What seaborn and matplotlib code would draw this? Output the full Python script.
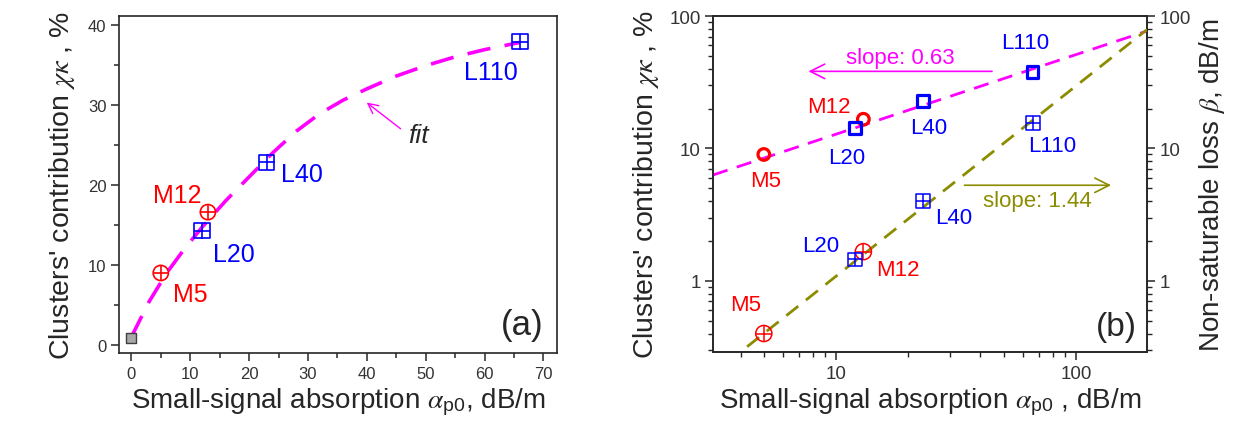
import matplotlib
matplotlib.use("Agg")
import matplotlib.pyplot as plt
import seaborn as sns
import pandas as pd
from matplotlib.ticker import MultipleLocator, FormatStrFormatter, NullFormatter

# ---- data ----
sample = ["M5", "L20", "M12", "L40", "L110"]
alpha_p0 = [5, 12, 13, 23, 66]              # small-signal absorption, dB/m
chi_kappa = [9.0, 14.3, 16.6, 22.8, 37.9]   # clusters' contribution, %
beta_loss = [0.40, 1.45, 1.66, 4.0, 15.6]   # non-saturable loss, dB/m

origin_alpha = [0]
origin_chi = [0.85]

# fit curve of panel (a)
fit_alpha = [0, 3, 6, 9, 12, 16, 20, 24, 28, 32, 36, 40, 45, 50, 55, 60, 66]
fit_chi = [1.0, 5.4, 9.0, 12.0, 14.7, 18.0, 21.0, 24.0, 26.7, 28.9, 30.6, 32.0,
           33.6, 34.9, 36.0, 36.9, 37.8]

# power-law fits of panel (b): end points of the straight lines
chi_fit_alpha = [3.07, 198]
chi_fit = [6.3, 77]
beta_fit_alpha = [4.26, 198]
beta_fit = [0.318, 79]

df = pd.DataFrame({"sample": sample, "alpha": alpha_p0, "chi": chi_kappa, "beta": beta_loss})
df["kind"] = df["sample"].str[0]
fit_a = pd.DataFrame({"alpha": fit_alpha, "chi": fit_chi})
fit_b1 = pd.DataFrame({"alpha": chi_fit_alpha, "val": chi_fit})
fit_b2 = pd.DataFrame({"alpha": beta_fit_alpha, "val": beta_fit})

sns.set_style("ticks")
plt.rcParams["font.family"] = ["Liberation Sans", "DejaVu Sans"]
plt.rcParams["mathtext.fontset"] = "stix"

RED = "#FF0000"
BLUE = "#0000FF"
MAG = "#FF00FF"
OLIVE = "#8C8C00"
colors = {"M": RED, "L": BLUE}

fig = plt.figure(figsize=(12.37, 4.35), dpi=100)
ax1 = fig.add_axes([0.0962, 0.1862, 0.3541, 0.7747])
ax2 = fig.add_axes([0.5764, 0.1885, 0.3509, 0.7724])


def cross_marker(ax, data, y, kind, s, shape, lw):
    sub = data[data["kind"] == kind]
    c = colors[kind]
    sns.scatterplot(data=sub, x="alpha", y=y, marker=shape, s=s, facecolor="none",
                    edgecolor=c, linewidth=lw, ax=ax, zorder=5)
    sns.scatterplot(data=sub, x="alpha", y=y, marker="+", s=s, color=c,
                    linewidth=lw, ax=ax, zorder=5)


# ---------------- panel (a) ----------------
sns.lineplot(data=fit_a, x="alpha", y="chi", color=MAG, lw=2.6,
             linestyle=(0, (6.5, 4)), ax=ax1, zorder=3)
sns.scatterplot(x=origin_alpha, y=origin_chi, marker="s", s=45, color="#A8A8A8",
                edgecolor="#404040", linewidth=1.0, ax=ax1, zorder=5)
cross_marker(ax1, df, "chi", "M", 120, "o", 1.2)
cross_marker(ax1, df, "chi", "L", 120, "s", 1.2)

lab_a = {"M5": (21, -15), "L20": (23, -17), "M12": (-22, 12), "L40": (25, -8), "L110": (-21, -22)}
for _, r in df.iterrows():
    ax1.annotate(r["sample"], (r["alpha"], r["chi"]), xytext=lab_a[r["sample"]],
                 textcoords="offset points", ha="center", va="center",
                 color=colors[r["kind"]], fontsize=18)

ax1.annotate("", xy=(39.6, 30.5), xytext=(46.1, 26.8),
             arrowprops=dict(arrowstyle="->", color=MAG, lw=1.0, mutation_scale=18))
ax1.text(48.7, 26.2, "fit", fontsize=19, style="italic", ha="center", va="center")
ax1.text(66.4, 2.6, "(a)", fontsize=25, ha="center", va="center")

ax1.set_xlim(-2.1, 72.3)
ax1.set_ylim(-1.0, 41.1)
ax1.xaxis.set_major_locator(MultipleLocator(10))
ax1.xaxis.set_minor_locator(MultipleLocator(5))
ax1.yaxis.set_major_locator(MultipleLocator(10))
ax1.yaxis.set_minor_locator(MultipleLocator(5))
ax1.set_xlabel("Small-signal absorption $\\alpha_{\\mathregular{p0}}$, dB/m", fontsize=20, labelpad=4)
ax1.set_ylabel("Clusters' contribution $\\chi\\kappa$ , %", fontsize=20.5, labelpad=8)
ax1.tick_params(which="major", direction="out", length=5.5, width=1.1, labelsize=12,
                labelcolor="#333333")
ax1.tick_params(which="minor", direction="out", length=3.5, width=1.1)

# ---------------- panel (b) ----------------
ax2.set_xscale("log")
ax2.set_yscale("log")
ax2r = ax2.twinx()
ax2r.set_yscale("log")

sns.lineplot(data=fit_b1, x="alpha", y="val", color=MAG, lw=2.0,
             linestyle=(0, (5.5, 3.5)), ax=ax2, zorder=3)
sns.lineplot(data=fit_b2, x="alpha", y="val", color=OLIVE, lw=2.0,
             linestyle=(0, (5.5, 3.5)), ax=ax2r, zorder=3)

for kind, shape, s in (("M", "o", 70), ("L", "s", 68)):
    sub = df[df["kind"] == kind]
    sns.scatterplot(data=sub, x="alpha", y="chi", marker=shape, s=s, facecolor="none",
                    edgecolor=colors[kind], linewidth=2.3, ax=ax2, zorder=5)
cross_marker(ax2r, df, "beta", "M", 135, "o", 1.1)
cross_marker(ax2r, df, "beta", "L", 100, "s", 1.1)

lab_b1 = {"M5": (1, -19), "L20": (-6, -21), "M12": (-25, 9), "L40": (4, -19), "L110": (-5, 21)}
lab_b2 = {"M5": (-13, 21), "L20": (-25, 10), "M12": (25, -13), "L40": (22, -12), "L110": (14, -16)}
for _, r in df.iterrows():
    ax2.annotate(r["sample"], (r["alpha"], r["chi"]), xytext=lab_b1[r["sample"]],
                 textcoords="offset points", ha="center", va="center",
                 color=colors[r["kind"]], fontsize=16)
    ax2r.annotate(r["sample"], (r["alpha"], r["beta"]), xytext=lab_b2[r["sample"]],
                  textcoords="offset points", ha="center", va="center",
                  color=colors[r["kind"]], fontsize=16)

ax2.annotate("", xy=(7.47, 38.2), xytext=(45.9, 38.2),
             arrowprops=dict(arrowstyle="->", color=MAG, lw=1.2, mutation_scale=26))
ax2.text(18.5, 48.9, "slope: 0.63", color=MAG, fontsize=16, ha="center", va="center")
ax2r.annotate("", xy=(144, 5.27), xytext=(33.4, 5.27),
              arrowprops=dict(arrowstyle="->", color=OLIVE, lw=1.2, mutation_scale=26))
ax2r.text(69.3, 4.07, "slope: 1.44", color=OLIVE, fontsize=16, ha="center", va="center")
ax2r.text(147, 0.448, "(b)", fontsize=24, ha="center", va="center")

for a in (ax2, ax2r):
    a.set_xlim(3.07, 198)
    a.set_ylim(0.29, 100)
    a.yaxis.set_major_formatter(FormatStrFormatter("%g"))
    a.yaxis.set_minor_formatter(NullFormatter())
    a.tick_params(which="major", direction="out", length=5.5, width=1.1, labelsize=13.5,
                  labelcolor="#333333")
    a.tick_params(which="minor", direction="out", length=3.5, width=1.0)
ax2.xaxis.set_major_formatter(FormatStrFormatter("%g"))
ax2.xaxis.set_minor_formatter(NullFormatter())
ax2.set_xlabel("Small-signal absorption $\\alpha_{\\mathregular{p0}}$ , dB/m", fontsize=20, labelpad=3)
ax2.set_ylabel("Clusters' contribution $\\chi\\kappa$ , %", fontsize=20.5, labelpad=6)
ax2r.set_ylabel("Non-saturable loss $\\beta$, dB/m", fontsize=20, labelpad=4)
ax2r.set_position([0.5764, 0.1885, 0.3509, 0.7724])

for a in (ax1, ax2, ax2r):
    for sp in a.spines.values():
        sp.set_linewidth(1.2)

fig.savefig("out.png", dpi=100)
